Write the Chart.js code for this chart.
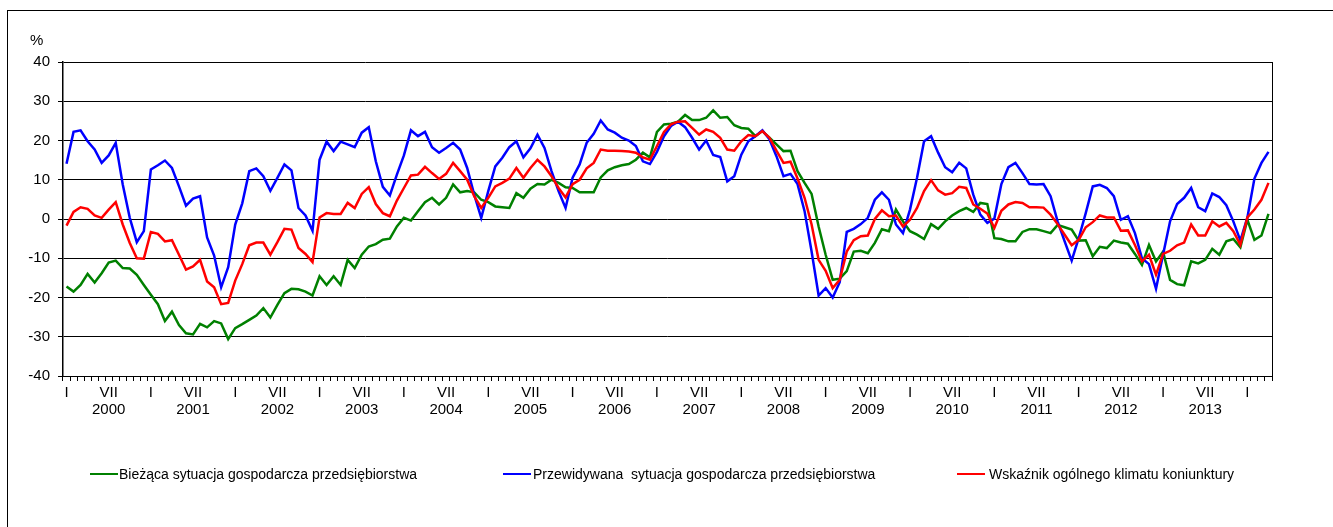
<!DOCTYPE html>
<html>
<head>
<meta charset="utf-8">
<script src="https://cdn.jsdelivr.net/npm/chart.js@4.4.1/dist/chart.umd.min.js"></script>
<style>
  html, body { margin: 0; padding: 0; background: #fff; overflow: hidden; }
  body { width: 1333px; height: 527px; position: relative; font-family: "Liberation Sans", Arial, sans-serif; }
  #frame { position: absolute; left: 7px; top: 10px; width: 1400px; height: 600px; border: 1px solid #000; box-sizing: border-box; }
  #c { position: absolute; left: 0; top: 0; }
  #pct { position: absolute; left: 30px; top: 31px; font-size: 15px; color: #000; }
  .lg { position: absolute; top: 466px; font-size: 14px; color: #000; white-space: pre; line-height: 16px; }
  .lg i { position: absolute; top: 7px; width: 28px; height: 0; border-top: 2.5px solid; }
</style>
</head>
<body>
<div id="frame"></div>
<canvas id="c" width="1333" height="527"></canvas>
<div id="pct">%</div>
<div id="legend"></div>
<script>
// ---- data (monthly, I 2000 .. IV 2014) ----
const years = [2000, 2001, 2002, 2003, 2004, 2005, 2006, 2007, 2008, 2009, 2010, 2011, 2012, 2013, 2014];
const monthTickLabels = ['I', '', '', '', '', '', 'VII', '', '', '', '', ''];
const lastYearMonths = 4;

const seriesNames = [
  'Bieżąca sytuacja gospodarcza przedsiębiorstwa',
  'Przewidywana  sytuacja gospodarcza przedsiębiorstwa',
  'Wskaźnik ogólnego klimatu koniunktury'
];
const seriesColors = ['#008000', '#0000ff', '#ff0000'];

const biezaca = [
  -17.2, -18.5, -16.8, -14.0, -16.2, -13.8, -11.1, -10.6, -12.5, -12.6, -14.2, -16.8,
  -19.3, -21.7, -26.0, -23.6, -27.0, -29.1, -29.4, -26.7, -27.6, -26.0, -26.6, -30.6,
  -27.8, -26.8, -25.7, -24.6, -22.7, -25.1, -21.9, -18.9, -17.8, -17.9, -18.5, -19.5,
  -14.6, -16.8, -14.6, -16.8, -10.4, -12.5, -9.1, -7.0, -6.4, -5.3, -5.0, -1.9,
  0.3, -0.4, 2.0, 4.3, 5.4, 3.7, 5.4, 8.8, 6.8, 7.1, 6.8, 4.9,
  4.3, 3.2, 3.0, 2.8, 6.6, 5.4, 7.7, 8.9, 8.8, 10.0, 9.2, 8.1,
  7.9, 6.8, 6.8, 6.8, 10.6, 12.4, 13.2, 13.7, 14.0, 15.1, 16.9, 15.7,
  22.2, 24.1, 24.3, 24.8, 26.5, 25.2, 25.2, 25.8, 27.7, 25.8, 26.0, 23.9,
  23.2, 23.0, 21.1, 22.4, 20.7, 19.0, 17.3, 17.4, 12.2, 9.2, 6.4, -1.9,
  -9.1, -15.5, -15.2, -13.3, -8.3, -8.1, -8.7, -6.1, -2.6, -3.1, 2.4, -0.6,
  -3.1, -4.0, -5.1, -1.3, -2.5, -0.6, 0.9, 2.0, 2.8, 1.8, 4.1, 3.8,
  -4.9, -5.1, -5.7, -5.7, -3.3, -2.6, -2.6, -3.1, -3.6, -1.5, -2.1, -2.7,
  -5.5, -5.4, -9.5, -7.1, -7.4, -5.5, -6.0, -6.3, -8.9, -11.7, -6.6, -10.8,
  -8.3, -15.5, -16.6, -16.9, -10.8, -11.3, -10.4, -7.6, -9.1, -5.7, -5.1, -7.2,
  -0.2, -5.3, -4.2, 1.3
];

const przewidywana = [
  14.1, 22.2, 22.6, 19.8, 17.7, 14.3, 16.2, 19.4, 8.8, 0.3, -5.9, -3.1,
  12.6, 13.7, 14.9, 13.0, 8.3, 3.4, 5.2, 5.8, -4.7, -9.3, -17.4, -12.3,
  -1.4, 4.0, 12.2, 12.9, 10.9, 7.2, 10.5, 13.9, 12.4, 2.8, 0.9, -3.0,
  15.1, 19.7, 17.3, 19.7, 19.0, 18.3, 22.0, 23.4, 14.7, 8.2, 6.0, 11.3,
  16.2, 22.6, 21.1, 22.2, 18.3, 16.9, 18.1, 19.4, 17.7, 13.0, 6.2, 0.3,
  7.1, 13.4, 15.6, 18.3, 19.8, 15.7, 18.0, 21.5, 18.1, 12.2, 7.1, 2.8,
  10.5, 13.9, 19.4, 21.7, 25.1, 22.8, 22.0, 20.7, 20.0, 18.6, 14.7, 14.0,
  17.1, 21.1, 23.7, 24.8, 23.4, 20.7, 17.7, 20.0, 16.3, 15.8, 9.6, 10.9,
  16.4, 19.8, 21.1, 22.6, 20.3, 16.0, 10.9, 11.5, 8.9, 2.0, -8.3, -19.5,
  -17.6, -20.0, -16.1, -3.3, -2.5, -1.3, 0.3, 4.9, 6.8, 4.9, -1.4, -3.6,
  2.4, 10.5, 19.8, 21.1, 16.9, 13.2, 11.9, 14.3, 12.9, 6.2, 1.1, -1.0,
  0.1, 8.9, 13.2, 14.3, 11.7, 8.9, 8.8, 8.9, 5.8, -0.6, -5.7, -10.6,
  -4.9, 1.5, 8.3, 8.7, 7.9, 5.8, -0.2, 0.7, -3.6, -10.0, -11.5, -17.8,
  -9.1, -0.6, 3.8, 5.4, 7.9, 3.0, 2.0, 6.5, 5.6, 3.5, -0.6, -5.5,
  0.4, 10.3, 14.3, 17.1
];

const wskaznik = [
  -1.7, 1.8, 3.0, 2.6, 0.9, 0.3, 2.4, 4.3, -1.4, -6.1, -10.0, -10.1,
  -3.3, -3.8, -5.7, -5.4, -9.1, -12.9, -12.1, -10.4, -15.9, -17.4, -21.7, -21.4,
  -15.7, -11.5, -6.7, -6.0, -6.0, -9.1, -5.9, -2.5, -2.7, -7.4, -8.9, -11.0,
  0.4, 1.5, 1.3, 1.3, 4.1, 2.8, 6.4, 8.1, 3.8, 1.5, 0.7, 4.7,
  7.9, 11.1, 11.3, 13.3, 11.7, 10.2, 11.5, 14.3, 12.2, 10.0, 5.8, 2.8,
  5.4, 8.3, 9.2, 10.3, 13.0, 10.5, 13.0, 15.1, 13.4, 10.9, 7.9, 5.5,
  8.9, 10.0, 12.9, 14.3, 17.7, 17.4, 17.4, 17.3, 17.2, 16.9, 15.7, 15.1,
  18.6, 22.2, 24.1, 24.8, 24.9, 23.2, 21.5, 22.8, 22.2, 20.7, 17.7, 17.4,
  19.8, 21.4, 21.1, 22.4, 20.7, 17.4, 14.3, 14.6, 10.3, 5.4, -1.4, -10.4,
  -13.2, -17.6, -15.5, -8.3, -5.4, -4.4, -4.2, 0.0, 2.2, 0.7, 0.9, -1.9,
  -0.2, 2.8, 7.1, 9.9, 7.3, 6.2, 6.6, 8.2, 7.9, 3.7, 2.6, 1.4,
  -2.3, 2.1, 3.7, 4.3, 4.1, 3.0, 3.0, 2.9, 1.1, -1.3, -4.0, -6.7,
  -5.3, -2.1, -0.8, 0.9, 0.4, 0.4, -3.0, -2.9, -6.6, -10.8, -9.1, -14.2,
  -8.9, -8.1, -6.7, -6.0, -1.4, -4.2, -4.2, -0.6, -1.9, -1.0, -3.1, -6.6,
  0.4, 2.4, 4.9, 9.2
];

const yTicks = { min: -40, max: 40, step: 10 };

// ---- build categories ----
const categories = [];
years.forEach((y, yi) => {
  const n = (yi === years.length - 1) ? lastYearMonths : 12;
  for (let m = 0; m < n; m++) {
    const t = monthTickLabels[m];
    categories.push(m === 6 ? [t, String(y)] : t);
  }
});

// ---- legend (HTML, real text) ----
const legendPos = [{ line: 90, text: 119 }, { line: 503, text: 533 }, { line: 957, text: 989 }];
const legendEl = document.getElementById('legend');
seriesNames.forEach((name, i) => {
  const d = document.createElement('div');
  d.className = 'lg';
  d.style.left = legendPos[i].text + 'px';
  const ln = document.createElement('i');
  ln.style.left = (legendPos[i].line - legendPos[i].text) + 'px';
  ln.style.borderTopColor = seriesColors[i];
  d.appendChild(ln);
  d.appendChild(document.createTextNode(name));
  legendEl.appendChild(d);
});

const FONT = { family: '"Liberation Sans", Arial, sans-serif', size: 15, lineHeight: 1.15 };

const rightBorder = {
  id: 'rightBorder',
  afterDraw(chart) {
    const a = chart.chartArea, ctx = chart.ctx;
    ctx.save();
    ctx.strokeStyle = '#000';
    ctx.lineWidth = 1;
    ctx.beginPath();
    ctx.moveTo(Math.round(a.right) + 0.5, a.top);
    ctx.lineTo(Math.round(a.right) + 0.5, a.bottom + 5);
    ctx.stroke();
    ctx.restore();
  }
};

const seriesData = [biezaca, przewidywana, wskaznik];
new Chart(document.getElementById('c'), {
  type: 'line',
  data: {
    labels: categories,
    datasets: seriesData.map((d, i) => ({
      label: seriesNames[i],
      data: d,
      borderColor: seriesColors[i],
      backgroundColor: seriesColors[i],
      borderWidth: 2.5,
      pointRadius: 0,
      tension: 0,
      fill: false,
      order: 2 - i
    }))
  },
  options: {
    responsive: false,
    animation: false,
    events: [],
    layout: { padding: { left: 0, top: 62, right: 61, bottom: 0 } },
    plugins: { legend: { display: false }, tooltip: { enabled: false }, title: { display: false } },
    scales: {
      x: {
        type: 'category',
        offset: true,
        afterFit(s) { s.height = 151; },
        grid: { display: true, offset: true, drawOnChartArea: false, drawTicks: true, tickLength: 5, color: '#000', lineWidth: 1 },
        border: { display: true, color: '#000', width: 1 },
        ticks: { autoSkip: false, maxRotation: 0, minRotation: 0, padding: 3, color: '#000', font: FONT }
      },
      y: {
        min: yTicks.min, max: yTicks.max,
        afterFit(s) { s.width = 63; },
        grid: { color: '#000', lineWidth: 1, drawTicks: true, tickLength: 5 },
        border: { display: true, color: '#000', width: 1.5 },
        ticks: { stepSize: yTicks.step, padding: 8, color: '#000', font: FONT }
      }
    }
  },
  plugins: [rightBorder]
});
</script>
</body>
</html>
